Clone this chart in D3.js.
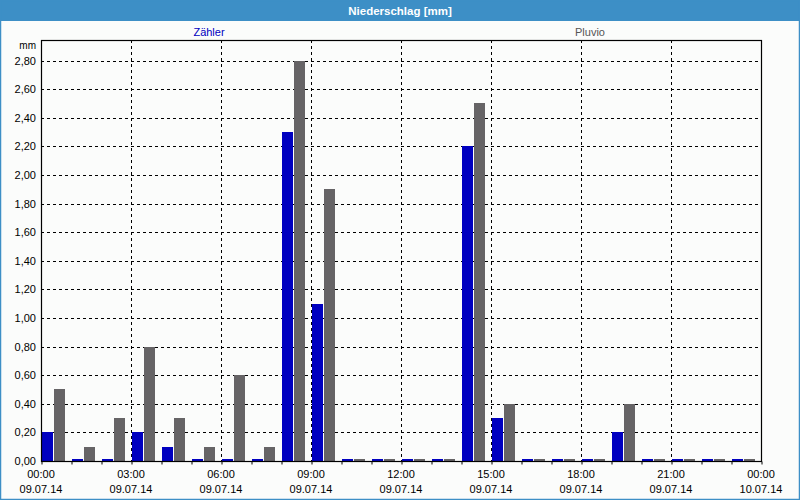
<!DOCTYPE html>
<html>
<head>
<meta charset="utf-8">
<script src="https://cdn.jsdelivr.net/npm/d3@7"></script>
<style>
  html, body { margin: 0; padding: 0; background: #ffffff; }
  svg text { font-family: "Liberation Sans", Arial, sans-serif; }
</style>
</head>
<body>
<svg id="chart" width="800" height="500"></svg>
<script>
// ---- data ----
const title = "Niederschlag [mm]";
const unitLabel = "mm";
const seriesNames = ["Zähler", "Pluvio"];
const hours = [0,1,2,3,4,5,6,7,8,9,10,11,12,13,14,15,16,17,18,19,20,21,22,23];
const zaehler = [0.20,0,0,0.20,0.10,0,0,0,2.30,1.10,0,0,0,0,2.20,0.30,0,0,0,0.20,0,0,0,0];
const pluvio  = [0.50,0.10,0.30,0.80,0.30,0.10,0.60,0.10,2.80,1.90,0,0,0,0,2.50,0.40,0,0,0,0.40,0,0,0,0];
const yTicks = [0,0.2,0.4,0.6,0.8,1.0,1.2,1.4,1.6,1.8,2.0,2.2,2.4,2.6,2.8];
const xTickHours = [0,3,6,9,12,15,18,21,24];
const xTickTimes = ["00:00","03:00","06:00","09:00","12:00","15:00","18:00","21:00","00:00"];
const xTickDates = ["09.07.14","09.07.14","09.07.14","09.07.14","09.07.14","09.07.14","09.07.14","09.07.14","10.07.14"];
const colors = ["#0000c0", "#666466"];

// ---- layout ----
const W = 800, H = 500;
const plot = { left: 41, right: 761, top: 40, bottom: 461 };
const svg = d3.select("#chart");

// frame
svg.append("rect").attr("x", 0).attr("y", 0).attr("width", W).attr("height", H).attr("fill", "#fbfcfb");
svg.append("rect").attr("x", 0).attr("y", 0).attr("width", W).attr("height", 21).attr("fill", "#3d8fc6");
svg.append("rect").attr("x", 0.5).attr("y", 0.5).attr("width", W - 1).attr("height", H - 1)
  .attr("fill", "none").attr("stroke", "#3d8fc6").attr("stroke-width", 1.5);
svg.append("text").attr("x", W / 2).attr("y", 15).attr("text-anchor", "middle")
  .attr("fill", "#ffffff").attr("font-weight", "bold").attr("font-size", 11.5).text(title);

// legend
const legendX = [209, 590];
seriesNames.forEach((n, i) => {
  svg.append("text").attr("x", legendX[i]).attr("y", 36).attr("text-anchor", "middle")
    .attr("font-size", 11).attr("fill", i === 0 ? "#0000c0" : "#555555").text(n);
});

// scales
const x = d3.scaleLinear().domain([0, 24]).range([plot.left, plot.right]);
const y = d3.scaleLinear().domain([0, 2.8]).range([plot.bottom, 60.5]);
const xi = d3.scaleBand().domain([0, 1]).range([1, 25]);

// horizontal grid
svg.append("g").selectAll("line").data(yTicks.filter(d => d > 0)).join("line")
  .attr("x1", plot.left).attr("x2", plot.right)
  .attr("y1", d => Math.round(y(d)) + 0.5).attr("y2", d => Math.round(y(d)) + 0.5)
  .attr("stroke", "#000").attr("stroke-dasharray", "3,3");
// vertical grid
svg.append("g").selectAll("line").data(xTickHours.filter(h => h > 0 && h < 24)).join("line")
  .attr("x1", d => Math.round(x(d)) + 0.5).attr("x2", d => Math.round(x(d)) + 0.5)
  .attr("y1", plot.top).attr("y2", plot.bottom)
  .attr("stroke", "#000").attr("stroke-dasharray", "3,3");

// bars
const seriesData = [zaehler, pluvio];
seriesData.forEach((vals, s) => {
  svg.append("g").selectAll("rect").data(hours).join("rect")
    .attr("x", h => Math.round(x(h) + xi(s)))
    .attr("width", xi.bandwidth() - 1)
    .attr("y", h => Math.min(Math.round(y(vals[h])), plot.bottom - 2))
    .attr("height", h => Math.max(plot.bottom - Math.round(y(vals[h])), 2))
    .attr("fill", colors[s]);
});

// plot frame
svg.append("rect").attr("x", plot.left + 0.5).attr("y", plot.top + 0.5)
  .attr("width", plot.right - plot.left).attr("height", plot.bottom - plot.top)
  .attr("fill", "none").attr("stroke", "#000").attr("stroke-width", 1.2);

// x axis ticks (every hour)
const xAxis = d3.axisBottom(x).tickValues(d3.range(0, 25)).tickSize(3).tickFormat("");
svg.append("g").attr("transform", `translate(0.5,${plot.bottom + 0.5})`).call(xAxis)
  .call(g => g.select(".domain").remove());

// x labels
const xl = svg.append("g");
xl.selectAll("text.t").data(xTickHours).join("text").attr("class", "t")
  .attr("x", d => x(d)).attr("y", 478).attr("text-anchor", "middle")
  .attr("font-size", 11).attr("fill", "#000").text((d, i) => xTickTimes[i]);
xl.selectAll("text.d").data(xTickHours).join("text").attr("class", "d")
  .attr("x", d => x(d)).attr("y", 493).attr("text-anchor", "middle")
  .attr("font-size", 11).attr("fill", "#000").text((d, i) => xTickDates[i]);

// y labels
const fmt = d => d.toFixed(2).replace(".", ",");
svg.append("g").selectAll("text").data(yTicks).join("text")
  .attr("x", 36).attr("y", d => y(d) + 4).attr("text-anchor", "end")
  .attr("font-size", 11).attr("fill", "#000").text(fmt);
svg.append("text").attr("x", 36).attr("y", 49).attr("text-anchor", "end")
  .attr("font-size", 10).attr("fill", "#000").text(unitLabel);
</script>
</body>
</html>
